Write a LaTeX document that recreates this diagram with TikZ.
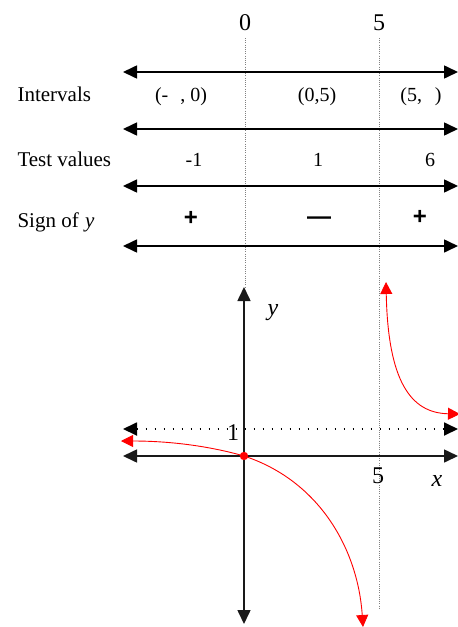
\documentclass[tikz,border=0pt]{standalone}
\usepackage{fontspec}
\setmainfont{Liberation Serif}
\setsansfont{Liberation Sans}
\usetikzlibrary{arrows.meta}

\begin{document}
\begin{tikzpicture}[x=1pt,y=-1pt,
  numline/.style={line width=1.6pt,{Triangle[length=14pt,width=13pt]}-{Triangle[length=14pt,width=13pt]}},
  guide/.style={gray,line width=0.6pt,dash pattern=on 1pt off 1.2pt},
  big/.style={font=\fontsize{24}{28}\selectfont,anchor=base},
  lbl/.style={font=\fontsize{21}{25}\selectfont,anchor=base west},
  cell/.style={font=\fontsize{20}{24}\selectfont,anchor=base},
  sgn/.style={font=\fontsize{24}{28}\selectfont\sffamily\bfseries},
  curve/.style={red,line width=0.9pt}]
\useasboundingbox (0,0) rectangle (458,627);
% guides through 0 and 5
\draw[guide] (245,38) -- (245,288);
\draw[guide] (379,38) -- (379,608);
\node[big] (zero) at (245,30) {0};
\node[big] (five) at (379,30) {5};
% sign chart
\foreach \y in {72,129,186,246}
  \draw[numline] (123,\y) -- (458,\y);
\node[lbl] (intv) at (14,101) {Intervals};
\node[lbl] (test) at (14,166) {Test values};
\node[lbl] (sign) at (14,227) {Sign of\hspace{0.3em}\textit{y}};
\node[cell] (ia) at (181,101) {(-\hspace{0.6em}, 0)};
\node[cell] (ib) at (317,101) {(0,5)};
\node[cell] (ic) at (421,101) {(5,\hspace{0.65em})};
\node[cell] (ta) at (194,166) {-1};
\node[cell] (tb) at (318,166) {1};
\node[cell] (tc) at (430,166) {6};
\node[sgn] (sa) at (191,218) {+};
\node[sgn] (sb) at (319,221) {—};
\node[sgn] (sc) at (420,217) {+};
% graph
\draw[numline,black!90] (244,287) -- (244,624);
\draw[numline,black!90] (123,456) -- (458,456);
\draw[numline,line width=1.8pt,dash pattern=on 1.8pt off 7.2pt] (123,429) -- (458,429);
\node[big] (one) at (233,440) {1};
\node[big] (fivex) at (378,483) {5};
\node[big] (xl) at (437,486) {\textit{x}};
\node[big] (yl) at (273,315) {\textit{y}};
\draw[curve,{Triangle[length=12pt,width=12pt]}-{Triangle[length=12pt,width=12pt]}] (121,441) .. controls (180,441) and (220,449) .. (244,456) .. controls (320,481) and (358,550) .. (363,627);
\draw[curve,{Triangle[length=12pt,width=12pt]}-{Triangle[length=12pt,width=12pt]}] (386,282) .. controls (388,380) and (410,413) .. (460,414);
\fill[red] (244,456) circle (4.2);
\end{tikzpicture}
\end{document}
